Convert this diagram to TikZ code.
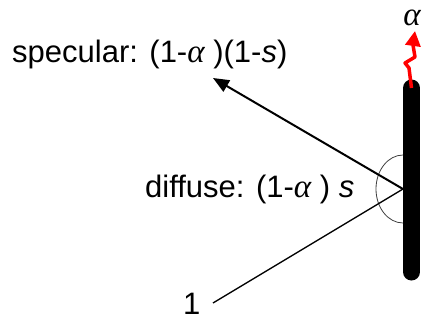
\documentclass[tikz,border=0pt]{standalone}
\usepackage{fontspec}
\setmainfont{Liberation Sans}
\newfontfamily\greekserif{Liberation Serif}
\usetikzlibrary{arrows.meta}
\newcommand\myalpha{{\greekserif\itshape\fontsize{33}{36}\selectfont α}}
\begin{document}
\begin{tikzpicture}[x=1pt,y=-1pt,
  lbl/.style={font=\fontsize{31}{34}\selectfont, inner sep=0pt, anchor=base west},
  wall/.style={line width=17pt, line cap=round},
  ray/.style={line width=1.3pt},
  angarc/.style={line width=0.8pt, black!75}]
\useasboundingbox (0,0) rectangle (422,320);
\coordinate (wt) at (411.5,88);
\coordinate (wb) at (411.5,272);
\coordinate (p) at (403,189);
\coordinate (in) at (213,303);
\coordinate (tip) at (213,78);
\coordinate (ab) at (403,223);
\draw[wall] (wt) -- (wb);
\draw[angarc] (ab) arc[start angle=90, end angle=270, x radius=27, y radius=34];
\draw[ray] (in) -- (p);
\draw[line width=2pt, -{Triangle[length=16pt,width=13pt]}] (p) -- (tip);
\draw[red, line width=3.5pt, line join=round, -{Triangle[length=15pt,width=15pt]}]
  (wt) -- (409,68) -- (405,63) -- (415,57) -- (413,45) -- (415,31);
\node[inner sep=0pt] (al) at (412,18) {\myalpha};
\node[lbl] (spec) at (12,63) {specular: (1-\myalpha\ )(1-\textit{s})};
\node[lbl] (diff) at (145,197) {diffuse: (1-\myalpha\ ) \textit{s}};
\node[lbl] (one) at (183,314) {1};
\end{tikzpicture}
\end{document}
